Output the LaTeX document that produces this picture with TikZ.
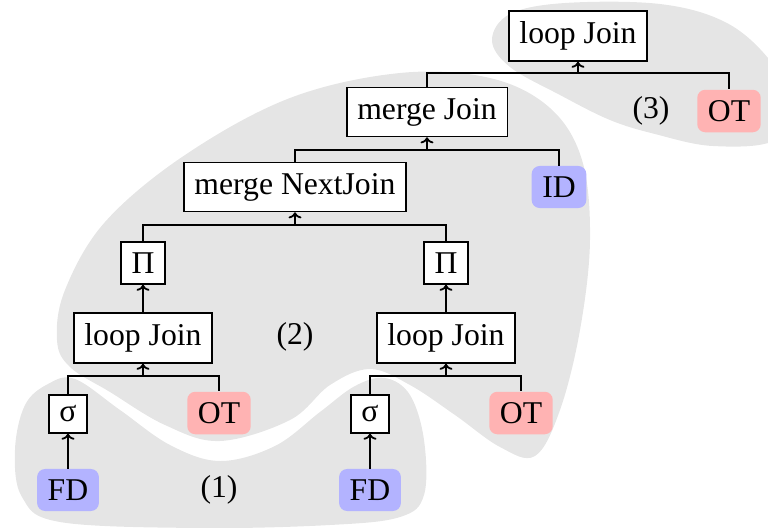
\documentclass[tikz,border=0pt]{standalone}
\usepackage{fontspec}
\usetikzlibrary{arrows.meta}
\setmainfont{Liberation Serif}
\newcommand\dfont{\fontsize{15.85pt}{19pt}\selectfont}
\definecolor{blobgray}{HTML}{E5E5E5}
\definecolor{otred}{HTML}{FFB3B3}
\definecolor{idblue}{HTML}{B3B3FF}
\tikzset{
  opbox/.style={draw=black, fill=white, line width=0.8pt, inner sep=5.3pt, font=\dfont},
  relred/.style={fill=otred, rounded corners=4pt, inner sep=5.3pt, font=\dfont},
  relblue/.style={fill=idblue, rounded corners=4pt, inner sep=5.3pt, font=\dfont},
  grouplabel/.style={inner sep=0pt, font=\dfont},
  link/.style={line width=0.9pt},
  uparrow/.style={line width=0.9pt, -{To[length=3pt,width=6.5pt]}},
  blob/.style={fill=blobgray, draw=none}
}
\begin{document}
\begin{tikzpicture}[x=0.5pt, y=-0.5pt]
\useasboundingbox (0,0) rectangle (768,527);
\begin{scope}
\clip (0,0) rectangle (768,527);
% blob (3)
\path[blob] plot[smooth cycle, tension=0.6] coordinates {(492,40) (510,14) (565,3) (660,4) (725,22) (768,58) (790,100) (775,140) (713,146) (655,134) (610,120) (560,95) (510,67)};
% blob (2)
\path[blob] plot[smooth cycle, tension=0.6] coordinates {(400,73) (490,78) (550,108) (582,160) (590,240) (580,330) (560,410) (535,456) (500,447) (455,415) (410,385) (370,369) (330,385) (290,420) (220,441) (165,425) (110,392) (70,367) (57,340) (65,290) (105,222) (185,155) (290,98)};
% blob (1)
\path[blob] plot[smooth cycle, tension=0.6] coordinates {(48,384) (75,379) (120,410) (170,445) (220,461) (275,446) (320,412) (355,386) (385,378) (410,395) (424,440) (424,495) (400,517) (330,525) (200,528) (60,522) (22,497) (15,450) (25,405)};
\end{scope}

% nodes
\node[opbox] (lj3) at (578,36) {loop Join};
\node[relred] (ot3) at (729,111) {OT};
\node[grouplabel] (g3) at (651,111) {(3)};
\node[opbox] (mj) at (427,112) {merge Join};
\node[relblue] (id) at (559,187) {ID};
\node[opbox] (mnj) at (295,187) {merge NextJoin};
\node[opbox] (pil) at (143,263) {Π};
\node[opbox] (pir) at (446,263) {Π};
\node[opbox] (ljl) at (143,338) {loop Join};
\node[opbox] (ljr) at (446,338) {loop Join};
\node[grouplabel] (g2) at (295,337) {(2)};
\node[opbox] (sgl) at (68,414) {σ};
\node[opbox] (sgr) at (370,414) {σ};
\node[relred] (otl) at (219,413) {OT};
\node[relred] (otr) at (521,413) {OT};
\node[relblue] (fdl) at (68,490) {FD};
\node[relblue] (fdr) at (370,490) {FD};
\node[grouplabel] (g1) at (219,490) {(1)};

% bar coordinates
\coordinate (b3) at (578,73);
\coordinate (bm) at (427,150);
\coordinate (bn) at (295,225);
\coordinate (bl) at (143,376);
\coordinate (br) at (446,376);

% connectors
\draw[link] (mj.north) |- (b3) -| (ot3.north);
\draw[uparrow] (b3) -- (lj3.south);
\draw[link] (mnj.north) |- (bm) -| (id.north);
\draw[uparrow] (bm) -- (mj.south);
\draw[link] (pil.north) |- (bn) -| (pir.north);
\draw[uparrow] (bn) -- (mnj.south);
\draw[uparrow] (ljl.north) -- (pil.south);
\draw[uparrow] (ljr.north) -- (pir.south);
\draw[link] (sgl.north) |- (bl) -| (otl.north);
\draw[uparrow] (bl) -- (ljl.south);
\draw[link] (sgr.north) |- (br) -| (otr.north);
\draw[uparrow] (br) -- (ljr.south);
\draw[uparrow] (fdl.north) -- (sgl.south);
\draw[uparrow] (fdr.north) -- (sgr.south);
\end{tikzpicture}
\end{document}
